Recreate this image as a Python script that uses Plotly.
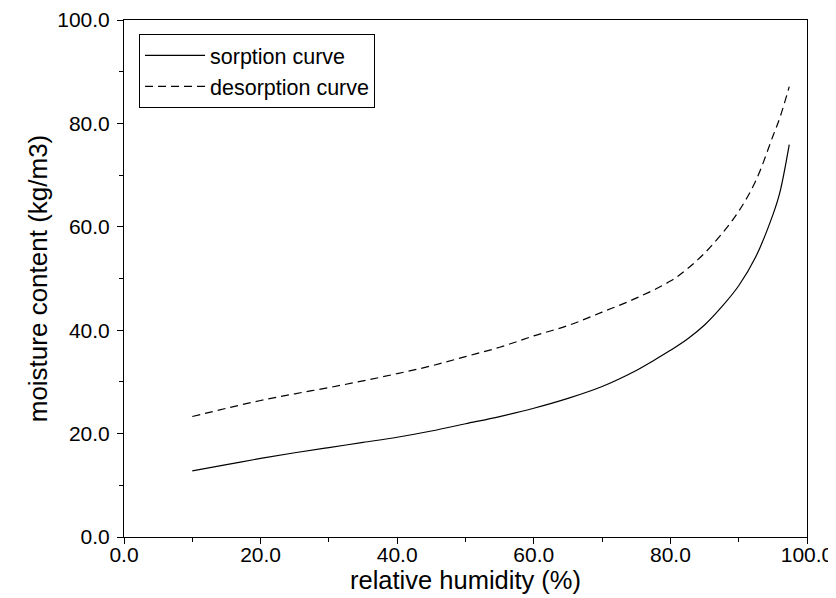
import plotly.graph_objects as go

# Relative humidity (%)
rh_sorption = [10, 15, 20, 25, 30, 35, 40, 45, 50, 55, 60, 65, 70, 75, 77.5, 80,
               82.5, 85, 87.5, 90, 92.5, 95, 96, 97.4]
mc_sorption = [12.8, 14.0, 15.2, 16.3, 17.3, 18.3, 19.3, 20.5, 21.9, 23.3, 24.9, 26.8,
               29.1, 32.2, 34.1, 36.1, 38.3, 41.0, 44.5, 48.6, 54.2, 62.3, 66.5, 75.9]

rh_desorption = [10, 15, 20, 25, 30, 35, 40, 45, 50, 55, 60, 65, 70, 75, 80,
                 82.5, 85, 87.5, 90, 92.5, 95, 96, 97.4]
mc_desorption = [23.3, 24.9, 26.4, 27.7, 28.9, 30.2, 31.6, 33.1, 34.9, 36.7, 38.9, 40.9,
                 43.5, 46.2, 49.5, 51.9, 54.9, 58.6, 63.0, 68.9, 77.5, 81.0, 87.1]

FONT = "Liberation Sans, Arial, sans-serif"

fig = go.Figure()
fig.add_trace(go.Scatter(x=rh_sorption, y=mc_sorption, mode="lines",
                         name="sorption curve",
                         line=dict(color="black", width=1.2, shape="spline")))
fig.add_trace(go.Scatter(x=rh_desorption, y=mc_desorption, mode="lines",
                         name="desorption curve",
                         line=dict(color="black", width=1.2, dash="8px,5px", shape="spline")))

axis_common = dict(
    showgrid=False, zeroline=False, showline=True, linecolor="black", linewidth=1,
    mirror=True, ticks="outside", ticklen=6, tickwidth=1, tickcolor="black",
    tickformat=".1f", tickfont=dict(family=FONT, size=21, color="black"),
    minor=dict(ticks="outside", ticklen=4, tickwidth=1, tickcolor="black", dtick=10),
    automargin=False, ticklabeloverflow="allow",
)

fig.update_xaxes(range=[0, 100], dtick=20, ticklabelstandoff=-7,
                 title=dict(text="relative humidity (%)", font=dict(family=FONT, size=25.5, color="black"),
                            standoff=0),
                 **axis_common)
fig.update_yaxes(range=[0, 100], dtick=20, ticklabelstandoff=3,
                 title=dict(text="moisture content (kg/m3)", font=dict(family=FONT, size=26, color="black"),
                            standoff=2),
                 **axis_common)

fig.update_layout(
    width=828, height=590,
    margin=dict(l=116, r=29, t=12, b=61),
    paper_bgcolor="white", plot_bgcolor="white",
    font=dict(family=FONT, color="black"),
    showlegend=True,
    legend=dict(x=0.022, y=0.973, xanchor="left", yanchor="top",
                bgcolor="white", bordercolor="black", borderwidth=1,
                font=dict(family=FONT, size=21.5, color="black"),
                tracegroupgap=0, itemwidth=60),
)

fig.write_html("out.html")
